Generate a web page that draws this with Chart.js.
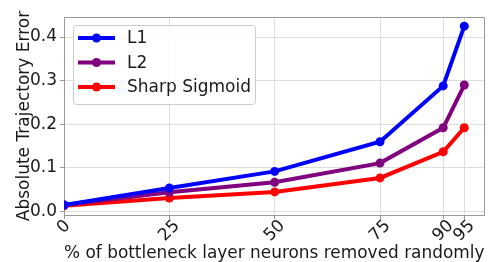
<!DOCTYPE html>
<html>
<head>
<meta charset="utf-8">
<script src="https://cdn.jsdelivr.net/npm/chart.js@4.4.1/dist/chart.umd.min.js"></script>
<style>
  html, body { margin: 0; padding: 0; background: #fff; }
  #wrap { width: 489px; height: 262px; }
</style>
</head>
<body>
<div id="wrap"><canvas id="chart" width="489" height="262"></canvas></div>
<script>
// ── Data ──────────────────────────────────────────────────────────
const removedPct   = [0, 25, 50, 75, 90, 95];
const errL1        = [0.015, 0.054, 0.092, 0.160, 0.288, 0.425];
const errL2        = [0.015, 0.044, 0.067, 0.111, 0.192, 0.290];
const errSigmoid   = [0.013, 0.031, 0.045, 0.077, 0.137, 0.192];
const xTickValues  = [0, 25, 50, 75, 90, 95];
const yTickValues  = [0.0, 0.1, 0.2, 0.3, 0.4];

const FONT = "'DejaVu Sans', sans-serif";

function series(label, ys, color) {
  return {
    label,
    data: removedPct.map((x, i) => ({ x, y: ys[i] })),
    borderColor: color,
    backgroundColor: color,
    borderWidth: 4,
    pointRadius: 4.5,
    pointHoverRadius: 4.5,
    pointBorderWidth: 0,
    tension: 0,
  };
}

// ── Top/right spines ──────────────────────────────────────────────
const frame = {
  id: "frame",
  beforeDatasetsDraw(chart) {
    const { ctx, chartArea: a } = chart;
    ctx.save();
    ctx.strokeStyle = "#999999";
    ctx.lineWidth = 1;
    ctx.beginPath();
    ctx.moveTo(Math.round(a.left) + 0.5, Math.round(a.top) + 0.5);
    ctx.lineTo(Math.round(a.right) - 0.5, Math.round(a.top) + 0.5);
    ctx.lineTo(Math.round(a.right) - 0.5, Math.round(a.bottom));
    ctx.stroke();
    ctx.restore();
  }
};

// ── Legend inside plot (matplotlib style) ─────────────────────────
const boxLegend = {
  id: "boxLegend",
  afterDatasetsDraw(chart) {
    const ctx = chart.ctx;
    const a = chart.chartArea;
    const x0 = a.left + 9, y0 = a.top + 8, w = 182, h = 79;
    ctx.save();
    ctx.fillStyle = "rgba(255,255,255,0.85)";
    ctx.strokeStyle = "#cccccc";
    ctx.lineWidth = 1;
    ctx.beginPath();
    ctx.roundRect(x0 + 0.5, y0 + 0.5, w, h, 3);
    ctx.fill();
    ctx.stroke();
    ctx.font = `17px ${FONT}`;
    ctx.textBaseline = "middle";
    chart.data.datasets.forEach((ds, i) => {
      const cy = y0 + 13 + i * 24.5;
      ctx.strokeStyle = ds.borderColor;
      ctx.lineWidth = 4;
      ctx.beginPath();
      ctx.moveTo(x0 + 5, cy);
      ctx.lineTo(x0 + 42, cy);
      ctx.stroke();
      ctx.fillStyle = ds.borderColor;
      ctx.beginPath();
      ctx.arc(x0 + 23.5, cy, 4.5, 0, Math.PI * 2);
      ctx.fill();
      ctx.fillStyle = "#1a1a1a";
      ctx.fillText(ds.label, x0 + 54, cy + 1);
    });
    ctx.restore();
  }
};

// ── Rotated x tick labels, centred on tick ────────────────────────
const rotatedTicks = {
  id: "rotatedTicks",
  afterDraw(chart) {
    const ctx = chart.ctx;
    const sx = chart.scales.x;
    const top = chart.chartArea.bottom + 4;
    ctx.save();
    ctx.font = `17px ${FONT}`;
    ctx.fillStyle = "#1a1a1a";
    ctx.textAlign = "center";
    ctx.textBaseline = "middle";
    xTickValues.forEach(v => {
      const label = String(v);
      const tw = ctx.measureText(label).width;
      const th = 12;
      const cx = sx.getPixelForValue(v);
      const cy = top + (tw + th) / (2 * Math.SQRT2);
      ctx.save();
      ctx.translate(cx, cy);
      ctx.rotate(-Math.PI / 4);
      ctx.fillText(label, 0, 0);
      ctx.restore();
    });
    ctx.restore();
  }
};

new Chart(document.getElementById("chart"), {
  type: "line",
  data: {
    datasets: [
      series("L1", errL1, "#0000ff"),
      series("L2", errL2, "#800080"),
      series("Sharp Sigmoid", errSigmoid, "#ff0000"),
    ]
  },
  options: {
    responsive: false,
    animation: false,
    layout: { padding: { top: 17, right: 2, left: 0, bottom: 0 } },
    plugins: { legend: { display: false }, tooltip: { enabled: false } },
    scales: {
      x: {
        type: "linear",
        min: 0, max: 99.8,
        afterBuildTicks: s => { s.ticks = xTickValues.map(value => ({ value })); },
        afterFit: s => { s.height = 47; },
        ticks: { display: false },
        grid: { color: "#dddddd", lineWidth: 1, tickLength: 4, tickColor: "#999999" },
        border: { color: "#999999", width: 1 },
        title: {
          display: true,
          text: "% of bottleneck layer neurons removed randomly",
          font: { family: FONT, size: 17 },
          color: "#1a1a1a",
          padding: { top: 0, bottom: -2 },
        },
      },
      y: {
        min: -0.008, max: 0.446,
        afterBuildTicks: s => { s.ticks = yTickValues.map(value => ({ value })); },
        afterFit: s => { s.width = 64; },
        ticks: {
          font: { family: FONT, size: 17 },
          color: "#1a1a1a",
          padding: 3,
          callback: v => v.toFixed(1),
        },
        grid: { color: "#dddddd", lineWidth: 1, tickLength: 4, tickColor: "#999999" },
        border: { color: "#999999", width: 1 },
        title: {
          display: true,
          text: "Absolute Trajectory Error",
          font: { family: FONT, size: 17 },
          color: "#1a1a1a",
          padding: { top: 14, bottom: 0 },
        },
      }
    }
  },
  plugins: [frame, boxLegend, rotatedTicks]
});
</script>
</body>
</html>
